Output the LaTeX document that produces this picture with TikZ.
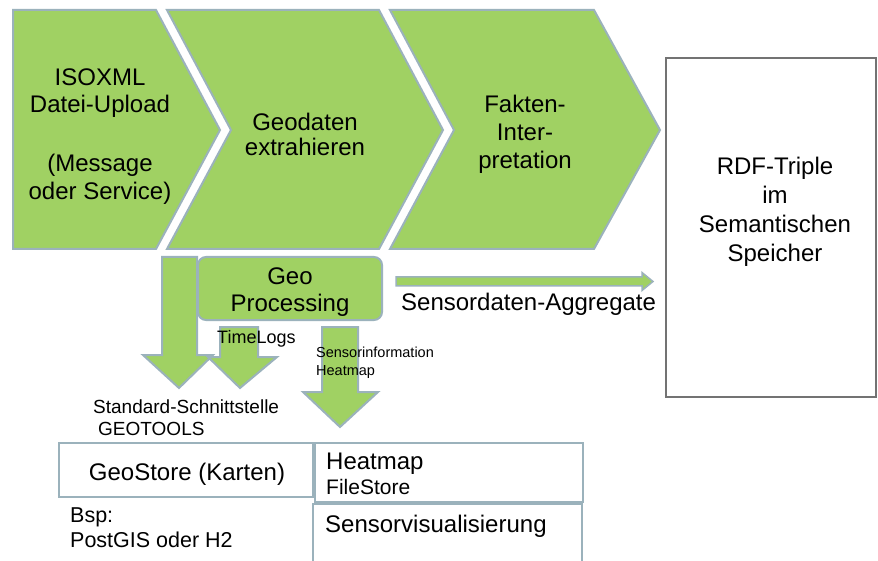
\documentclass[tikz,border=0pt]{standalone}
\usepackage{fontspec}
\setmainfont{Liberation Sans}
\definecolor{lgreen}{RGB}{160,209,99}
\definecolor{edgeblue}{RGB}{155,178,188}
\definecolor{rdfgray}{RGB}{115,115,115}
\begin{document}
\begin{tikzpicture}[x=1pt,y=-1pt,
  greenshape/.style={fill=lgreen, draw=edgeblue, line width=2pt, line join=miter},
  storebox/.style={draw=edgeblue, line width=2pt, fill=white},
  big/.style={font=\fontsize{24}{28}\selectfont, inner sep=0pt, text=black},
  mid/.style={font=\fontsize{19}{22}\selectfont, inner sep=0pt, text=black},
  small/.style={font=\fontsize{14.5}{18}\selectfont, inner sep=0pt, text=black}]
\useasboundingbox (0,0) rectangle (878,561);
\fill[white] (0,0) rectangle (878,561);

% chevrons
\draw[greenshape] (13,10) -- (156,10) -- (220,130) -- (156,249) -- (13,249) -- cycle;
\draw[greenshape] (167,10) -- (379,10) -- (443,130) -- (379,249) -- (167,249) -- (231,130) -- cycle;
\draw[greenshape] (390,10) -- (594,10) -- (660,130) -- (594,249) -- (390,249) -- (454,130) -- cycle;

% RDF store
\draw[rdfgray, line width=1.2pt] (666,58) rectangle (876,397);

% left big down arrow
\draw[greenshape] (162,257) -- (197,257) -- (197,355) -- (213,355) -- (179,388) -- (143,355) -- (162,355) -- cycle;
% Geo Processing box
\draw[greenshape, rounded corners=8pt] (198,257) rectangle (382,320);
% TimeLogs arrow
\draw[greenshape] (220,327) -- (258,327) -- (258,357) -- (277,357) -- (240,388) -- (208,357) -- (220,357) -- cycle;
% Sensorinformation arrow
\draw[greenshape] (322,327) -- (358,327) -- (358,392) -- (378,392) -- (340,427) -- (303,392) -- (322,392) -- cycle;
% Sensordaten-Aggregate arrow
\draw[greenshape, line width=1.5pt] (396,277) -- (642,277) -- (642,272.5) -- (653,281.5) -- (642,290.5) -- (642,286) -- (396,286) -- cycle;

% stores
\draw[storebox] (59,443) rectangle (313,497);
\draw[storebox] (315,443) rectangle (583,502);
\draw[storebox] (313,561) -- (313,504) -- (582,504) -- (582,561);

% texts
\node[big, align=center] (isoxml) at (100,136.4) {ISOXML\\[-1pt]Datei-Upload\\[31pt](Message\\oder Service)};
\node[big, align=center, font=\fontsize{24}{25}\selectfont] (geodaten) at (305,134.8) {Geodaten\\extrahieren};
\node[big, align=center] (fakten) at (525,133.8) {Fakten-\\Inter-\\pretation};
\node[big, align=center, font=\fontsize{24}{29}\selectfont] (rdf) at (775,212) {RDF-Triple\\im\\Semantischen\\Speicher};
\node[big, align=center, font=\fontsize{24}{27}\selectfont] (geoproc) at (290,292) {Geo\\Processing};
\node[big, anchor=base west] (aggregate) at (401,310) {Sensordaten-Aggregate};
\node[mid, font=\fontsize{18}{22}\selectfont, anchor=base west] (timelogs) at (217,343) {TimeLogs};
\node[small, align=left, anchor=north west] (sensorinfo) at (316,346.6) {Sensorinformation\\Heatmap};
\node[mid, align=left, anchor=north west] (schnitt) at (93,399.4) {Standard-Schnittstelle\\\hspace*{5pt}GEOTOOLS};
\node[big, anchor=base] (geostore) at (187,480) {GeoStore (Karten)};
\node[big, align=left, anchor=north west] (heatmap) at (326,452.5) {Heatmap\\[-3pt]{\fontsize{21}{25}\selectfont FileStore}};
\node[big, anchor=base west] (sensorvis) at (325,532) {Sensorvisualisierung};
\node[big, align=left, anchor=north west, font=\fontsize{21.5}{25}\selectfont] (bsp) at (70,507.6) {Bsp:\\PostGIS oder H2};
\end{tikzpicture}
\end{document}
